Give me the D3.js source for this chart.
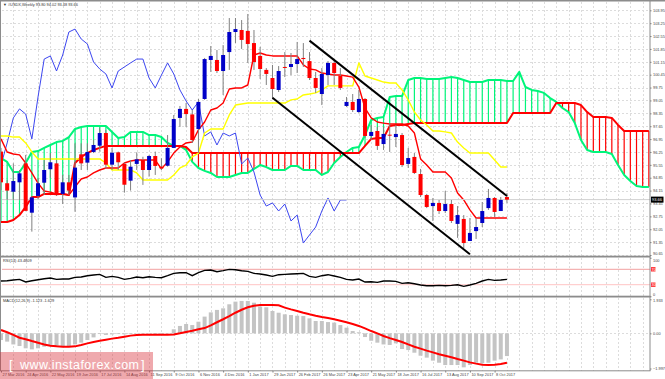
<!DOCTYPE html>
<html>
<head>
<meta charset="utf-8">
<script src="https://cdn.jsdelivr.net/npm/d3@7"></script>
<style>
html, body { margin: 0; padding: 0; background: #fff; overflow: hidden; }
svg { display: block; }
text { font-family: "Liberation Sans", sans-serif; }
.axis path { display: none; }
.axis line { stroke: #808080; }
.axis text { font-size: 3.9px; fill: #444; }
</style>
</head>
<body>
<div id="chart"></div>
<script>
// weekly candles, one entry per bar
var opens = [96.27,94.55,94.09,94.60,95.63,92.95,93.86,94.58,95.31,95.63,93.97,94.60,93.78,96.12,95.67,96.25,96.59,97.28,95.56,96.23,95.60,94.69,95.60,95.81,95.27,96.03,95.45,95.50,96.47,98.10,98.59,98.29,97.50,99.13,101.25,101.25,100.65,101.68,102.77,102.88,102.83,102.17,101.47,100.71,100.27,99.62,100.87,100.87,101.03,101.36,101.19,100.27,99.40,100.43,101.09,100.38,98.75,98.97,98.42,99.13,97.12,97.39,96.68,97.19,97.06,97.17,95.60,95.98,95.05,93.91,93.31,93.48,93.04,93.42,92.34,92.61,91.41,91.95,92.39,93.20,93.75,93.04,93.80];
var highs = [96.47,94.73,95.63,95.27,96.09,93.86,94.84,95.81,96.19,95.81,95.00,95.00,96.72,96.72,96.72,96.90,97.55,97.45,96.47,96.27,95.67,95.81,96.23,95.99,96.09,96.27,95.91,97.17,98.26,98.75,98.91,98.53,99.13,101.36,102.01,101.79,102.06,103.53,103.53,103.42,103.75,102.88,101.96,100.81,100.98,100.92,101.68,101.63,102.23,102.17,101.68,100.60,100.81,101.19,101.25,100.81,99.24,99.40,99.62,99.18,97.72,97.61,97.61,97.82,97.72,97.28,96.47,96.19,95.33,93.97,93.75,93.64,94.13,93.64,93.31,92.82,92.66,92.66,93.53,94.24,93.80,93.80,94.02];
var lows = [94.18,93.64,93.64,93.64,93.03,91.92,93.69,93.91,94.84,93.86,93.42,93.91,93.00,95.27,95.27,96.19,96.27,95.33,95.27,95.27,94.04,94.15,95.27,94.46,94.91,95.00,95.27,95.45,96.47,97.61,97.61,96.74,96.19,99.08,100.60,100.54,99.35,100.71,102.17,101.85,101.09,100.71,100.22,99.89,99.13,99.51,100.32,100.43,100.54,100.87,100.16,99.46,98.80,99.89,99.89,99.62,98.69,98.42,98.37,97.01,96.90,96.36,96.36,96.25,96.52,95.43,95.38,95.05,93.80,93.20,92.50,92.88,92.93,92.39,91.58,91.03,91.41,91.52,92.17,93.10,92.72,93.04,93.48];
var closes = [94.60,94.15,94.67,95.09,93.05,93.78,94.55,95.27,95.69,93.90,94.60,94.15,95.40,95.63,96.25,96.63,97.28,95.56,96.21,95.69,94.47,95.45,95.85,95.27,96.03,95.49,95.36,96.47,98.04,98.59,98.31,96.90,98.97,101.30,101.47,100.65,101.52,102.77,102.93,102.34,102.12,101.14,100.76,100.49,99.67,100.65,100.87,101.03,101.30,101.30,100.27,99.73,100.49,101.09,100.54,99.73,98.97,98.53,99.13,97.12,97.34,96.58,97.23,97.15,97.23,95.54,95.92,95.11,93.91,93.26,93.48,93.04,93.42,92.50,92.82,91.30,91.85,92.17,93.04,93.75,92.99,93.64,93.66];

// ichimoku
var tenkan = [96.96,96.25,96.14,96.09,95.65,95.11,94.56,94.13,94.07,93.97,93.97,93.91,94.35,94.78,94.89,95.11,95.27,95.38,95.38,95.38,95.65,95.76,95.81,95.81,95.81,95.81,95.33,95.71,96.19,96.52,96.74,96.79,97.45,97.88,98.53,98.64,98.91,99.67,99.73,99.73,99.89,101.52,101.63,101.52,101.47,101.47,101.47,101.47,101.47,100.98,100.76,100.71,100.54,100.49,100.43,100.43,100.38,100.32,99.78,98.64,98.10,97.88,97.82,97.77,97.77,97.77,97.66,97.28,95.87,95.54,95.16,95.16,95.16,94.84,94.02,93.64,93.10,92.66,92.66,92.66,92.66,92.66,92.66];
var kijun = [97.12,97.12,97.06,97.06,96.74,96.25,95.87,95.87,95.87,95.87,95.87,95.87,95.87,95.87,95.87,95.87,95.87,95.65,95.27,95.27,95.27,95.27,95.11,94.73,94.73,94.73,94.73,94.73,95.00,95.38,95.54,95.98,96.19,97.28,97.50,97.50,97.50,98.26,98.80,98.86,98.91,98.91,98.91,98.91,98.91,98.91,98.91,99.08,99.13,99.35,99.40,99.46,99.62,99.84,99.84,99.84,99.84,99.84,101.09,100.38,100.27,100.16,100.05,100.00,100.00,99.62,99.08,98.42,97.99,97.72,97.39,97.39,97.34,97.28,96.79,96.47,96.19,96.19,96.19,96.19,95.81,95.43,95.43];
var chikou = [95.54,96.74,98.10,98.59,98.31,96.96,99.24,101.30,101.47,100.65,101.52,102.77,102.93,102.39,102.12,101.14,100.76,100.49,99.73,100.65,100.87,101.09,101.30,101.30,100.27,99.73,100.43,101.09,100.49,99.62,99.02,98.53,98.97,97.12,97.34,96.63,97.28,97.12,97.28,95.60,95.92,95.16,93.91,93.31,93.48,93.04,93.42,92.50,92.82,91.30,91.74,92.17,93.04,93.75,93.04,93.64,93.64];
var senkouA = [95.92,95.71,95.16,95.16,95.65,96.25,96.30,96.47,96.63,96.79,96.85,97.06,97.50,97.61,97.66,97.66,97.66,97.66,97.34,97.01,97.06,97.34,97.34,97.34,97.17,97.17,97.06,96.74,96.58,96.58,96.36,95.71,95.38,95.22,95.11,94.89,94.89,94.89,95.00,95.11,95.11,95.33,95.54,95.43,95.27,95.27,95.27,95.49,95.49,95.27,95.27,95.27,95.00,95.16,95.65,95.98,96.25,96.47,96.52,97.17,97.99,98.10,98.15,99.24,99.29,99.29,100.16,100.27,100.27,100.22,100.22,100.22,100.27,100.32,100.27,100.16,100.05,100.05,100.05,100.16,100.16,100.16,100.11,100.11,100.60,99.78,99.62,99.56,99.46,99.18,98.97,98.64,98.42,97.82,96.90,96.36,96.25,96.25,96.25,96.14,95.54,95.00,94.67,94.40,94.35,94.35];
var senkouB = [92.44,92.44,92.55,92.82,93.26,93.80,93.80,93.97,93.97,93.97,93.97,93.91,95.65,95.98,96.19,96.36,96.47,96.58,96.58,96.58,96.58,96.58,96.58,96.58,96.58,96.58,96.58,96.58,96.58,96.58,96.52,96.19,96.19,96.19,96.19,96.19,96.19,96.19,96.19,96.19,96.19,96.19,96.19,96.19,96.19,96.19,96.19,96.19,96.19,96.19,96.19,96.19,96.19,96.19,96.19,96.19,96.19,96.19,96.19,96.58,96.96,97.01,97.01,97.66,97.72,97.72,97.77,97.82,97.82,97.82,97.82,97.82,97.82,97.82,97.82,97.82,97.82,97.82,97.82,97.82,97.82,97.82,97.82,98.37,98.37,98.37,98.37,98.37,98.37,98.37,98.91,98.91,98.91,98.91,98.80,98.42,98.15,98.15,98.15,98.10,97.72,97.39,97.39,97.39,97.39,97.39];

// hand drawn channel: [bar, price] ends
var channelUpper = [[50,102.30],[82,93.86]];
var channelLower = [[44,99.20],[76,90.69]];

var rsi = [39.6,40.4,42.2,43.9,37,40.4,43,45.6,47.4,43.9,44.8,44.8,49.1,50,53.4,55.1,56.9,49.1,51.7,49.1,43.9,46.5,50,48.2,50.8,49.1,48.2,53.4,59.5,61.2,61.2,53.4,61.2,67.3,68.1,63.8,66.4,69.9,69,66.4,64.7,59.5,57.7,55.1,51.7,56,56.9,57.7,58.6,59.5,51.7,49.1,53.4,56,52.6,49.1,43.9,42.2,44.8,37,37.8,36.1,39.6,39.6,38.7,33.5,35.2,32.6,29.2,27.4,27.4,28.3,27.4,28.3,30,25.7,29.2,33.5,39.6,43.9,41.3,42.2,43.9];

var macdHist = [-.38,-.47,-.63,-.72,-.85,-.91,-.85,-.76,-.66,-.72,-.72,-.72,-.63,-.53,-.38,-.23,-.04,-.09,-.06,-.04,-.06,-.04,-.02,-.02,-.02,-.04,-.04,-.02,.23,.42,.53,.47,.66,.95,1.19,1.33,1.42,1.65,1.80,1.84,1.84,1.74,1.52,1.48,1.27,1.17,1.08,1.04,1.00,.98,.85,.70,.70,.64,.61,.47,.32,.13,.06,-.21,-.42,-.53,-.63,-.66,-.57,-.89,-.95,-1.10,-1.27,-1.38,-1.55,-1.67,-1.80,-1.80,-1.80,-1.93,-1.80,-1.67,-1.70,-1.67,-1.55,-1.48,-1.29];
var macdSignal = [.19,.06,-.09,-.25,-.34,-.44,-.53,-.63,-.70,-.74,-.76,-.76,-.74,-.66,-.57,-.49,-.42,-.36,-.30,-.25,-.19,-.13,-.09,-.08,-.08,-.08,-.08,-.08,-.06,0,.08,.15,.23,.30,.45,.63,.80,.98,1.17,1.34,1.48,1.57,1.61,1.61,1.61,1.59,1.46,1.36,1.27,1.17,1.08,1.00,.93,.87,.80,.72,.63,.53,.42,.28,.13,0,-.15,-.27,-.38,-.49,-.63,-.76,-.87,-.98,-1.08,-1.19,-1.27,-1.36,-1.46,-1.55,-1.65,-1.72,-1.78,-1.80,-1.78,-1.74,-1.67];

// tick labels
var priceTicks = [103.95,103.25,102.55,101.85,101.15,100.45,99.75,99.05,98.35,97.65,96.95,96.25,95.55,94.85,94.15,93.45,92.75,92.05,91.35,90.65];
var dateBars = [0,4,8,12,16,20,24,28,32,36,40,44,48,52,56,60,64,68,72,76,80];
var dateLabels = ['27 Mar 2016','24 Apr 2016','22 May 2016','19 Jun 2016','17 Jul 2016','14 Aug 2016','11 Sep 2016','9 Oct 2016','6 Nov 2016','4 Dec 2016','1 Jan 2017','29 Jan 2017','26 Feb 2017','26 Mar 2017','23 Apr 2017','21 May 2017','18 Jun 2017','16 Jul 2017','13 Aug 2017','10 Sep 2017','8 Oct 2017'];
var lastPrice = 93.66;

const width = 665, height = 379, axis_x = 650;

var svg = d3.select('#chart').append('svg')
    .attr('width', width)
    .attr('height', height);

var x = d3.scaleLinear().domain([0, 105]).range([1, 648.85]);
var y = d3.scaleLinear().domain([90.65, 103.95]).range([255, 10.3]);
var y_rsi = d3.scaleLinear().domain([0, 100]).range([296.25, 257.75]);
var y_macd = d3.scaleLinear().domain([-1.997, 1.933]).range([368.5, 299.3]);

// grid
var gridBars = d3.range(2, 105, 2);
var grid = svg.append('g').attr('stroke', '#dcdcdc').attr('stroke-dasharray', '2,2').attr('stroke-width', 1);
grid.selectAll('.v').data(gridBars).enter().append('line')
    .attr('x1', d => Math.round(x(d)) + 0.5).attr('x2', d => Math.round(x(d)) + 0.5)
    .attr('y1', 2).attr('y2', 371);
grid.selectAll('.h').data(priceTicks).enter().append('line')
    .attr('x1', 2).attr('x2', axis_x)
    .attr('y1', d => Math.round(y(d)) + 0.5).attr('y2', d => Math.round(y(d)) + 0.5);
grid.append('line').attr('x1', 2).attr('x2', axis_x)
    .attr('y1', Math.round(y_macd(0)) + 0.5).attr('y2', Math.round(y_macd(0)) + 0.5);

// cloud hatching, one stroke per bar
svg.append('g').selectAll('line').data(senkouA).enter().append('line')
    .attr('x1', (d, i) => x(i)).attr('x2', (d, i) => x(i))
    .attr('y1', d => y(d))
    .attr('y2', (d, i) => y(senkouB[i]))
    .attr('stroke', (d, i) => d >= senkouB[i] ? '#00f57a' : '#ff0000')
    .attr('stroke-width', 1.2);

var line = d3.line().x((d, i) => x(i)).y(d => y(d));

function drawLine(values, color, w) {
    svg.append('path')
        .attr('d', line(values))
        .attr('fill', 'none')
        .attr('stroke', color)
        .attr('stroke-width', w)
        .attr('stroke-linejoin', 'round');
}

drawLine(senkouA, '#00f57a', 2);
drawLine(senkouB, '#ff0000', 2);
drawLine(chikou, '#3c46f0', 1);
drawLine(kijun, '#ffff00', 1.4);
drawLine(tenkan, '#ff0000', 1.4);

// current price line
svg.append('line')
    .attr('x1', 2).attr('x2', axis_x)
    .attr('y1', y(lastPrice)).attr('y2', y(lastPrice))
    .attr('stroke', '#d0d0d0').attr('stroke-width', 1);

// candles
var candles = svg.append('g').selectAll('g').data(opens).enter().append('g');
candles.append('line')
    .attr('x1', (d, i) => x(i)).attr('x2', (d, i) => x(i))
    .attr('y1', (d, i) => y(highs[i])).attr('y2', (d, i) => y(lows[i]))
    .attr('stroke', '#808080').attr('stroke-width', 1);
candles.append('rect')
    .attr('x', (d, i) => x(i) - 2)
    .attr('width', 4)
    .attr('y', (d, i) => y(Math.max(d, closes[i])))
    .attr('height', (d, i) => Math.max(1, Math.abs(y(d) - y(closes[i]))))
    .attr('fill', (d, i) => closes[i] > d ? '#0000c8' : '#ff0000');

// channel
[channelUpper, channelLower].forEach(function (c) {
    svg.append('line')
        .attr('x1', x(c[0][0])).attr('y1', y(c[0][1]))
        .attr('x2', x(c[1][0])).attr('y2', y(c[1][1]))
        .attr('stroke', '#000').attr('stroke-width', 2);
});

// rsi panel
svg.append('line').attr('x1', 2).attr('x2', axis_x).attr('y1', y_rsi(70)).attr('y2', y_rsi(70)).attr('stroke', '#f2a0a0');
svg.append('line').attr('x1', 2).attr('x2', axis_x).attr('y1', y_rsi(30)).attr('y2', y_rsi(30)).attr('stroke', '#ffc4c4');
svg.append('path')
    .attr('d', d3.line().x((d, i) => x(i)).y(d => y_rsi(d))(rsi))
    .attr('fill', 'none').attr('stroke', '#000').attr('stroke-width', 1.4);

// macd panel
svg.append('g').selectAll('rect').data(macdHist).enter().append('rect')
    .attr('x', (d, i) => x(i) - 2)
    .attr('width', 4)
    .attr('y', d => Math.min(y_macd(d), y_macd(0)))
    .attr('height', d => Math.abs(y_macd(d) - y_macd(0)))
    .attr('fill', '#c4c4c4');
svg.append('path')
    .attr('d', d3.line().x((d, i) => x(i)).y(d => y_macd(d))(macdSignal))
    .attr('fill', 'none').attr('stroke', '#ff0000').attr('stroke-width', 2);

// frame
var frame = [[0, 0, width, 1.5], [0, 255.7, axis_x + 0.5, 1.8], [0, 295.7, axis_x + 0.5, 1.8], [0, 370.3, axis_x + 0.5, 1], [0, 0, 1, 371], [axis_x - 0.5, 0, 1, 371]];
svg.append('g').selectAll('rect').data(frame).enter().append('rect')
    .attr('x', d => d[0]).attr('y', d => d[1]).attr('width', d => d[2]).attr('height', d => d[3])
    .attr('fill', '#8c8c8c');

// axes
svg.append('g').attr('class', 'axis').attr('transform', `translate(${axis_x},0)`)
    .call(d3.axisRight(y).tickValues(priceTicks).tickSize(1.5).tickPadding(1.5).tickFormat(d3.format('.2f')))
    .selectAll('text').attr('dy', d => d === 90.65 ? '-0.1em' : '0.32em');
svg.append('g').attr('class', 'axis').attr('transform', `translate(${axis_x},0)`)
    .call(d3.axisRight(y_rsi).tickValues([100, 0]).tickSize(1.5).tickPadding(1.5))
    .selectAll('text').attr('dy', d => d === 100 ? '0.9em' : '-0.2em');
svg.append('g').attr('class', 'axis').attr('transform', `translate(${axis_x},0)`)
    .call(d3.axisRight(y_macd).tickValues([1.933, 0, -1.997]).tickSize(1.5).tickPadding(1.5)
        .tickFormat(d => d === 0 ? '0.00' : d3.format('.3f')(d)))
    .selectAll('text').attr('dy', d => d === 1.933 ? '0.6em' : '0.32em');
var dateAxis = svg.append('g').attr('class', 'axis').attr('transform', 'translate(0,371)')
    .call(d3.axisBottom(x).tickValues(dateBars).tickSize(1.5).tickPadding(0.8)
        .tickFormat((d, i) => dateLabels[i]));
dateAxis.selectAll('text').attr('text-anchor', 'start').attr('dx', 1);

// rsi level tags
[70, 30].forEach(function (v) {
    svg.append('rect').attr('x', axis_x + 1).attr('y', y_rsi(v) - 2.2).attr('width', 4.5).attr('height', 4.4).attr('fill', '#ff3030');
    svg.append('text').attr('x', axis_x + 1.5).attr('y', y_rsi(v) + 1.4).attr('font-size', 3.9).attr('fill', '#fff').text(v);
});

// last price tag
svg.append('rect').attr('x', axis_x + 1).attr('y', y(lastPrice) - 3).attr('width', 12.5).attr('height', 6).attr('fill', '#000');
svg.append('text').attr('x', axis_x + 2).attr('y', y(lastPrice) + 1.5).attr('font-size', 4).attr('fill', '#fff').text(d3.format('.2f')(lastPrice));

// panel captions
function caption(txt, cy) {
    svg.append('text').attr('x', 3).attr('y', cy).attr('font-size', 3.9).attr('fill', '#333').text(txt);
}
caption('\u25BC #USDX,Weekly  93.80 94.02 93.48 93.66', 5.5);
caption('RSI(14) 43.4809', 261.5);
caption('MACD(12,26,9) -1.123 -1.629', 302);

// watermark
svg.append('rect').attr('x', 0).attr('y', 352).attr('width', 153).attr('height', 27).attr('fill', '#d8323c').attr('fill-opacity', 0.42);
svg.append('text').attr('x', 9).attr('y', 368.5).attr('fill', '#fff').attr('font-size', 13)
    .attr('font-family', 'Open Sans').attr('font-weight', 300).text('[');
svg.append('text').attr('x', 20).attr('y', 369).attr('fill', '#fff').attr('font-size', 12.5)
    .attr('font-family', 'Open Sans').attr('font-weight', 300).attr('textLength', 119).text('www.instaforex.com');
svg.append('text').attr('x', 141).attr('y', 368.5).attr('fill', '#fff').attr('font-size', 13)
    .attr('font-family', 'Open Sans').attr('font-weight', 300).text(']');
</script>
</body>
</html>
